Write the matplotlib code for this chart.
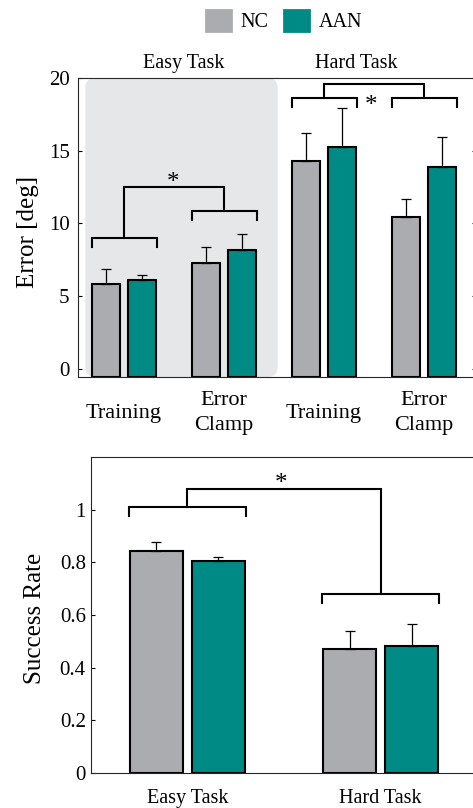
import matplotlib
matplotlib.use('Agg')
import matplotlib.pyplot as plt
import numpy as np
from matplotlib.patches import FancyBboxPatch, Patch
import matplotlib.transforms as mtransforms

# Daten
conditions = ['Training', 'Error\nClamp', 'Training', 'Error\nClamp']
error_nc = [5.84, 7.26, 14.32, 10.43]
error_nc_sd = [1.01, 1.10, 1.88, 1.23]
error_aan = [6.10, 8.18, 15.24, 13.90]
error_aan_sd = [0.38, 1.12, 2.68, 2.04]

tasks = ['Easy Task', 'Hard Task']
success_nc = [0.842, 0.472]
success_nc_sd = [0.034, 0.068]
success_aan = [0.804, 0.481]
success_aan_sd = [0.017, 0.086]

c_nc = '#abacb0'
c_aan = '#008a86'
c_bg = '#e6e7e9'

plt.rcParams['font.family'] = ['Liberation Serif', 'DejaVu Serif']

fig = plt.figure(figsize=(4.73, 8.08), dpi=100)


def bracket(ax, x1, x2, y, leg):
    ax.plot([x1, x1, x2, x2], [y - leg, y, y, y - leg], color='k', lw=1.5,
            solid_joinstyle='miter', zorder=5)


def connect(ax, xa, ya, xb, yb, ytop):
    ax.plot([xa, xa, xb, xb], [ya, ytop, ytop, yb], color='k', lw=1.5,
            solid_joinstyle='miter', zorder=5)


# ---------- oberes Diagramm: Fehler ----------
ax1 = fig.add_axes([78 / 473, 1 - 377 / 808, 398 / 473, 299 / 808])
x = np.arange(1, len(conditions) + 1)
off, w = 0.18, 0.28
y0 = -0.55
ax1.set_xlim(0.54, 4.52)
ax1.set_ylim(y0, 20)

bg = FancyBboxPatch((0.613, y0), 2.537 - 0.613, 20 - y0,
                    boxstyle='round,pad=0,rounding_size=0.1',
                    mutation_aspect=6.87, facecolor=c_bg, edgecolor='none', zorder=0)
ax1.add_patch(bg)

ax1.bar(x - off, np.array(error_nc) - y0, w, bottom=y0, color=c_nc,
        edgecolor='k', linewidth=1.5, zorder=2)
ax1.bar(x + off, np.array(error_aan) - y0, w, bottom=y0, color=c_aan,
        edgecolor='k', linewidth=1.5, zorder=2)
ax1.errorbar(x - off, error_nc, yerr=[np.zeros(4), error_nc_sd], fmt='none',
             ecolor='k', elinewidth=0.9, capsize=3.5, capthick=0.9, zorder=3)
ax1.errorbar(x + off, error_aan, yerr=[np.zeros(4), error_aan_sd], fmt='none',
             ecolor='k', elinewidth=0.9, capsize=3.5, capthick=0.9, zorder=3)

span = off + w / 2 + 0.005
bracket(ax1, 1 - span, 1 + span, 9.0, 0.62)
bracket(ax1, 2 - span, 2 + span, 10.88, 0.62)
connect(ax1, 1, 9.0, 2, 10.88, 12.51)
ax1.text(1.49, 12.8, '*', fontsize=18, ha='center', va='center')
bracket(ax1, 3 - span, 3 + span, 18.65, 0.62)
bracket(ax1, 4 - span, 4 + span, 18.65, 0.62)
connect(ax1, 3, 18.65, 4, 18.65, 19.57)
ax1.text(3.47, 18.05, '*', fontsize=18, ha='center', va='center')

ax1.set_yticks([0, 5, 10, 15, 20])
ax1.set_xticks(x)
ax1.set_xticklabels(conditions, fontsize=16, va='center', linespacing=1.4)
ax1.tick_params(axis='x', length=0, pad=26)
ax1.tick_params(axis='y', direction='in', right=True, length=3, labelsize=15, pad=6)
ax1.set_ylabel('Error [deg]', fontsize=18)
ax1.yaxis.set_label_coords(-0.097, 0.485)

trans = mtransforms.blended_transform_factory(ax1.transData, ax1.transAxes)
ax1.text(1.60, 1.034, 'Easy Task', transform=trans, fontsize=14.5, ha='center', va='baseline')
ax1.text(3.32, 1.034, 'Hard Task', transform=trans, fontsize=14.5, ha='center', va='baseline')

# ---------- unteres Diagramm: Erfolgsrate ----------
ax2 = fig.add_axes([90.7 / 473, 1 - 772.7 / 808, 386.6 / 473, 315.4 / 808])
x2 = np.arange(1, len(tasks) + 1)
off2, w2 = 0.16, 0.275
ax2.set_xlim(0.5, 2.5)
ax2.set_ylim(0, 1.2)
ax2.bar(x2 - off2, success_nc, w2, color=c_nc, edgecolor='k', linewidth=1.5, zorder=2)
ax2.bar(x2 + off2, success_aan, w2, color=c_aan, edgecolor='k', linewidth=1.5, zorder=2)
ax2.errorbar(x2 - off2, success_nc, yerr=[np.zeros(2), success_nc_sd], fmt='none',
             ecolor='k', elinewidth=0.9, capsize=3.5, capthick=0.9, zorder=3)
ax2.errorbar(x2 + off2, success_aan, yerr=[np.zeros(2), success_aan_sd], fmt='none',
             ecolor='k', elinewidth=0.9, capsize=3.5, capthick=0.9, zorder=3)

span2 = off2 + w2 / 2 + 0.005
bracket(ax2, 1 - span2, 1 + span2, 1.010, 0.033)
bracket(ax2, 2 - span2, 2 + span2, 0.678, 0.033)
connect(ax2, 1, 1.010, 2, 0.678, 1.080)
ax2.text(1.484, 1.098, '*', fontsize=18, ha='center', va='center')

ax2.set_yticks([0, 0.2, 0.4, 0.6, 0.8, 1])
ax2.set_yticklabels(['0', '0.2', '0.4', '0.6', '0.8', '1'])
ax2.set_xticks(x2)
ax2.set_xticklabels(tasks, fontsize=14.5)
ax2.tick_params(axis='x', length=0, pad=12)
ax2.tick_params(axis='y', direction='in', right=True, length=3, labelsize=15, pad=3.5)
ax2.set_ylabel('Success Rate', fontsize=18)
ax2.yaxis.set_label_coords(-0.116, 0.49)

for ax in (ax1, ax2):
    for s in ax.spines.values():
        s.set_linewidth(0.8)
        s.set_color('#262626')

# Legende
handles = [Patch(facecolor=c_nc, edgecolor=c_nc, linewidth=2, joinstyle='round', label='NC'),
           Patch(facecolor=c_aan, edgecolor=c_aan, linewidth=2, joinstyle='round', label='AAN')]
fig.legend(handles=handles, loc='center', bbox_to_anchor=(284 / 473, 1 - 21 / 808),
           ncol=2, frameon=False, fontsize=14.5, handlelength=1.25, handleheight=1.25,
           handletextpad=0.45, columnspacing=0.8)

fig.savefig('out.png', dpi=100)
